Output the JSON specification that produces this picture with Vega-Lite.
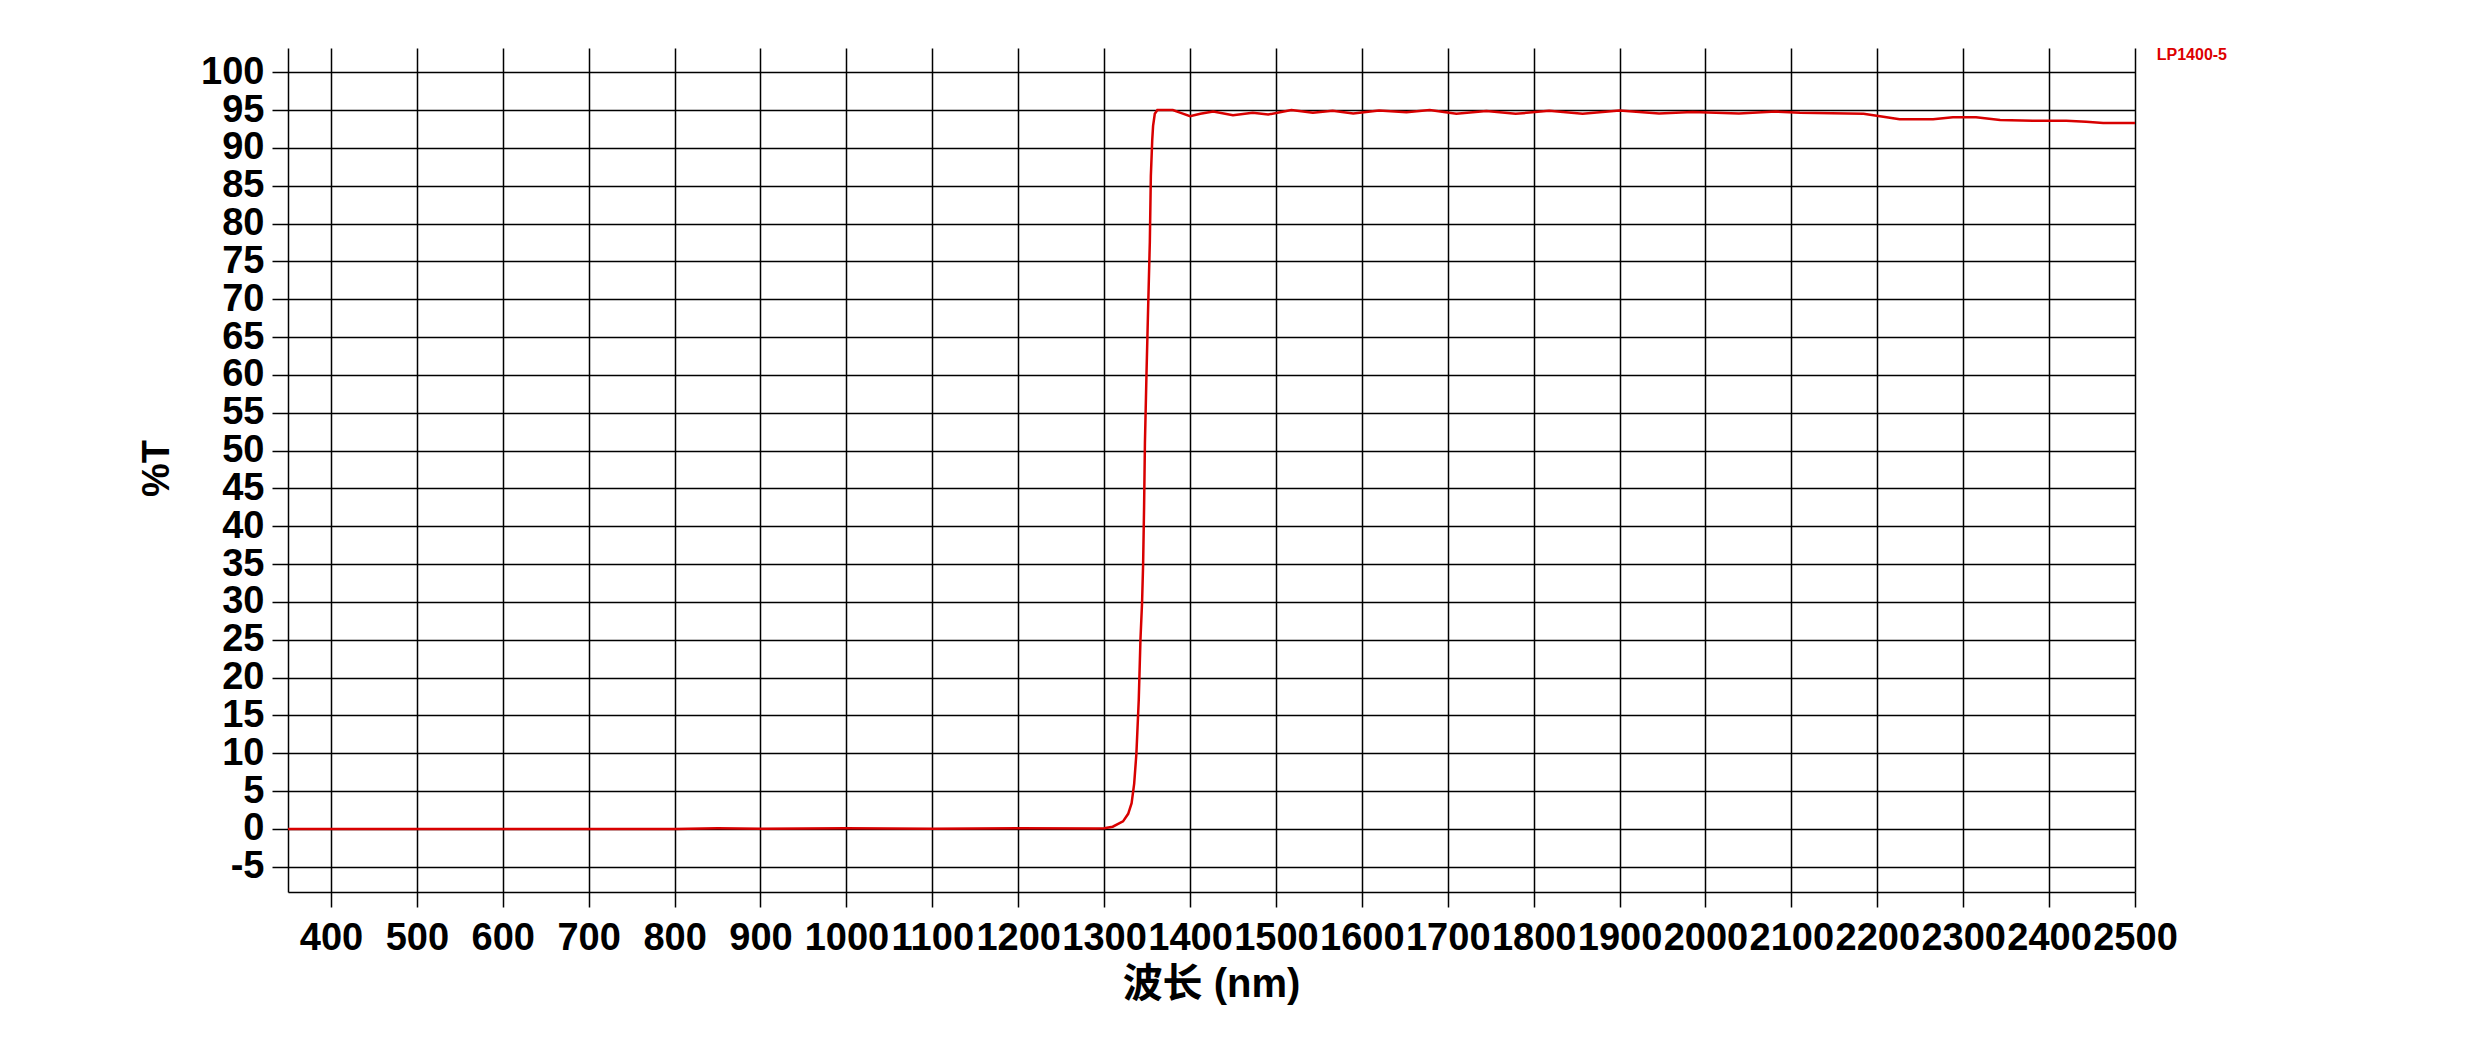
{
  "$schema": "https://vega.github.io/schema/vega-lite/v6.json",
  "autosize": "none",
  "width": 1847,
  "height": 844,
  "padding": {"left": 288, "top": 48, "right": 332, "bottom": 157},
  "background": "white",
  "config": {"view": {"stroke": null}},
  "title": {
    "text": "LP1400-5",
    "anchor": "end",
    "frame": "group",
    "color": "#dd0000",
    "font": "Liberation Sans",
    "fontSize": 16,
    "fontWeight": "bold",
    "offset": 0,
    "baseline": "alphabetic",
    "dx": 92,
    "dy": 28
  },
  "data": {
    "values": [
      {"wl": 350, "t": 0}, {"wl": 500, "t": 0}, {"wl": 800, "t": 0},
      {"wl": 850, "t": 0.08}, {"wl": 900, "t": 0.04}, {"wl": 1000, "t": 0.08},
      {"wl": 1100, "t": 0.04}, {"wl": 1200, "t": 0.08}, {"wl": 1290, "t": 0.05},
      {"wl": 1300, "t": 0.1}, {"wl": 1310, "t": 0.3}, {"wl": 1322, "t": 1.0},
      {"wl": 1328, "t": 2.0}, {"wl": 1332, "t": 3.4}, {"wl": 1335, "t": 6},
      {"wl": 1337.6, "t": 10}, {"wl": 1340.3, "t": 17}, {"wl": 1342.3, "t": 25},
      {"wl": 1344.2, "t": 30}, {"wl": 1345.4, "t": 35}, {"wl": 1346.5, "t": 42.4},
      {"wl": 1347.5, "t": 51}, {"wl": 1349.3, "t": 60}, {"wl": 1351.2, "t": 68.7},
      {"wl": 1353.2, "t": 77.5}, {"wl": 1354.4, "t": 86.3}, {"wl": 1356, "t": 91},
      {"wl": 1357, "t": 92.9}, {"wl": 1359, "t": 94.5}, {"wl": 1362, "t": 95.0},
      {"wl": 1380, "t": 95.0}, {"wl": 1390, "t": 94.6}, {"wl": 1400, "t": 94.2},
      {"wl": 1412, "t": 94.5}, {"wl": 1427, "t": 94.8}, {"wl": 1450, "t": 94.3},
      {"wl": 1473, "t": 94.65}, {"wl": 1491, "t": 94.4}, {"wl": 1518, "t": 95.0},
      {"wl": 1543, "t": 94.65}, {"wl": 1566, "t": 94.9}, {"wl": 1590, "t": 94.55},
      {"wl": 1620, "t": 94.95}, {"wl": 1652, "t": 94.7}, {"wl": 1679, "t": 95.0},
      {"wl": 1710, "t": 94.5}, {"wl": 1745, "t": 94.87}, {"wl": 1779, "t": 94.5},
      {"wl": 1818, "t": 94.9}, {"wl": 1857, "t": 94.5}, {"wl": 1900, "t": 94.95},
      {"wl": 1946, "t": 94.56}, {"wl": 1985, "t": 94.74}, {"wl": 2039, "t": 94.56},
      {"wl": 2082, "t": 94.8}, {"wl": 2110, "t": 94.65}, {"wl": 2184, "t": 94.5},
      {"wl": 2207, "t": 94.12}, {"wl": 2226, "t": 93.8}, {"wl": 2265, "t": 93.77},
      {"wl": 2288, "t": 94.04}, {"wl": 2315, "t": 94.04}, {"wl": 2343, "t": 93.7},
      {"wl": 2381, "t": 93.6}, {"wl": 2420, "t": 93.6}, {"wl": 2443, "t": 93.46},
      {"wl": 2463, "t": 93.3}, {"wl": 2500, "t": 93.3}
    ]
  },
  "mark": {"type": "line", "color": "#d80000", "strokeWidth": 2.5, "clip": true},
  "encoding": {
    "x": {
      "field": "wl",
      "type": "quantitative",
      "scale": {"domain": [350, 2500], "nice": false, "zero": false},
      "axis": {
        "values": [400, 500, 600, 700, 800, 900, 1000, 1100, 1200, 1300, 1400, 1500, 1600, 1700, 1800, 1900, 2000, 2100, 2200, 2300, 2400, 2500],
        "title": "波长 (nm)",
        "titleFont": "Liberation Sans, Noto Sans CJK SC",
        "titleFontSize": 40,
        "titleFontWeight": "bold",
        "titleColor": "black",
        "titleBaseline": "alphabetic",
        "titleX": 923,
        "titleY": 104,
        "titleAnchor": "middle",
        "labelFont": "Liberation Sans",
        "labelFontSize": 38,
        "labelFontWeight": "bold",
        "labelColor": "black",
        "labelOverlap": false,
        "labelFlush": false,
        "labelPadding": 12,
        "labelBound": false,
        "format": "d",
        "tickSize": 15,
        "tickColor": "black",
        "tickWidth": 1.5,
        "domainColor": "black",
        "domainWidth": 1.5,
        "grid": true,
        "gridColor": "black",
        "gridWidth": 1.5,
        "gridOpacity": 1
      }
    },
    "y": {
      "field": "t",
      "type": "quantitative",
      "scale": {"domain": [-8.33, 103.2], "nice": false, "zero": false},
      "axis": {
        "values": [-5, 0, 5, 10, 15, 20, 25, 30, 35, 40, 45, 50, 55, 60, 65, 70, 75, 80, 85, 90, 95, 100],
        "labelExpr": "'' + datum.value",
        "title": "%T",
        "titleFont": "Liberation Sans",
        "titleFontSize": 38,
        "titleFontWeight": "bold",
        "titleColor": "black",
        "titleBaseline": "alphabetic",
        "titleX": -120,
        "titleY": 420,
        "titleAngle": 270,
        "labelFont": "Liberation Sans",
        "labelFontSize": 38,
        "labelFontWeight": "bold",
        "labelColor": "black",
        "labelOverlap": false,
        "labelFlush": false,
        "labelPadding": 8,
        "labelBound": false,
        "tickSize": 16,
        "tickColor": "black",
        "tickWidth": 1.5,
        "domainColor": "black",
        "domainWidth": 1.5,
        "grid": true,
        "gridColor": "black",
        "gridWidth": 1.5,
        "gridOpacity": 1
      }
    }
  }
}
